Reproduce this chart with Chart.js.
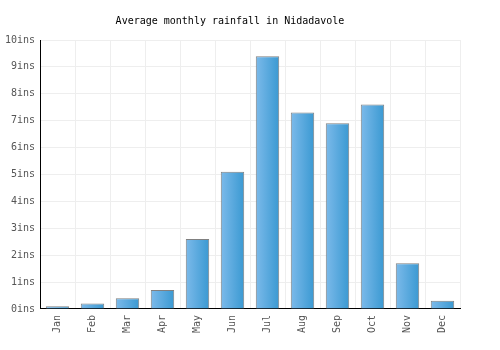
<!DOCTYPE html>
<html>
<head>
<meta charset="utf-8">
<script src="https://cdn.jsdelivr.net/npm/chart.js@4"></script>
<style>
  html, body { margin: 0; padding: 0; background: #fff; }
  #wrap { width: 500px; height: 350px; }
</style>
</head>
<body>
<div id="wrap"><canvas id="myChart"></canvas></div>
<script>
// chart data
const months = ['Jan', 'Feb', 'Mar', 'Apr', 'May', 'Jun', 'Jul', 'Aug', 'Sep', 'Oct', 'Nov', 'Dec']
const rainfall = [0.1, 0.2, 0.4, 0.7, 2.6, 5.1, 9.4, 7.3, 6.9, 7.6, 1.7, 0.3]
const yTicks = [0, 1, 2, 3, 4, 5, 6, 7, 8, 9, 10]

const barPct = 0.67

Chart.defaults.font.family = '"DejaVu Sans Mono", monospace'
Chart.defaults.font.size = 10
Chart.defaults.color = '#666'

// horizontal gradient for each bar, light on the left, darker on the right
function barGradient(context) {
    const chart = context.chart
    const xScale = chart.scales.x
    if (!chart.chartArea || !xScale || context.dataIndex == null) return '#5aa9e0'
    const center = xScale.getPixelForValue(context.dataIndex)
    const half = (chart.chartArea.width / months.length) * barPct / 2
    if (!isFinite(center)) return '#5aa9e0'
    const g = chart.ctx.createLinearGradient(center - half, 0, center + half, 0)
    g.addColorStop(0, '#7cbaea')
    g.addColorStop(1, '#3a99d2')
    return g
}

const ctx = document.getElementById('myChart').getContext('2d')

const myChart = new Chart(ctx, {
    type: 'bar',
    data: {
        labels: months,
        datasets: [{
            label: 'Rainfall',
            data: rainfall,
            backgroundColor: barGradient,
            borderColor: '#808080',
            borderWidth: 1,
            borderSkipped: 'bottom',
            barPercentage: barPct,
            categoryPercentage: 1
        }]
    },
    options: {
        responsive: true,
        maintainAspectRatio: false,
        animation: false,
        layout: {
            padding: { left: 0, right: 40, top: 0, bottom: 11 }
        },
        plugins: {
            legend: { display: false },
            tooltip: { enabled: false },
            title: {
                display: true,
                text: 'Average monthly rainfall in Nidadavole',
                color: '#000',
                font: { size: 10, weight: 'normal' },
                padding: { top: 15, bottom: 13 }
            }
        },
        scales: {
            x: {
                grid: { color: '#eee', drawTicks: false, offset: true },
                border: { color: '#000', width: 1 },
                ticks: { maxRotation: 90, minRotation: 90, padding: 6, color: '#555' }
            },
            y: {
                min: 0,
                max: 10,
                afterBuildTicks: axis => { axis.ticks = yTicks.map(v => ({ value: v })) },
                afterFit: axis => { axis.width = 40 },
                grid: { color: '#eee', drawTicks: false },
                border: { color: '#000', width: 1 },
                ticks: {
                    padding: 5,
                    color: '#555',
                    callback: value => value + 'ins'
                }
            }
        }
    }
})
</script>
</body>
</html>
